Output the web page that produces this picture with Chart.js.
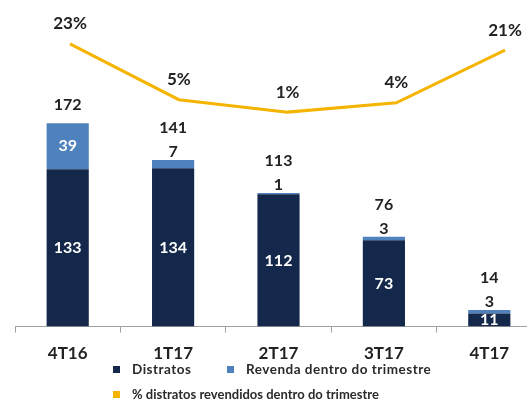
<!DOCTYPE html>
<html>
<head>
<meta charset="utf-8">
<script src="https://cdn.jsdelivr.net/npm/chart.js@4/dist/chart.umd.min.js"></script>
<style>
  html, body { margin: 0; padding: 0; background: #fff; }
  #wrap { position: relative; width: 527px; height: 401px; overflow: hidden; }
  #wrap canvas { position: absolute; left: 0; top: 0; }
  .lg { position: absolute; font-family: Lato, sans-serif; font-weight: bold; font-size: 13.5px; letter-spacing: 0.5px; color: #2a2a2a; white-space: nowrap; }
  .lg i { display: inline-block; width: 7px; height: 7px; margin-right: 12px; vertical-align: 1px; }
  .lg.tight { font-size: 13px; letter-spacing: 0; }
</style>
</head>
<body>
<div id="wrap">
  <canvas id="uaChart" width="560" height="401" style="width:560px;height:401px"></canvas>
  <div class="lg" style="left:113px;top:361px"><i style="background:#13284a"></i>Distratos</div>
  <div class="lg" style="left:227px;top:361px"><i style="background:#4f81bd"></i>Revenda dentro do trimestre</div>
  <div class="lg tight" style="left:113px;top:386px"><i style="background:#f5b400"></i>% distratos revendidos dentro do trimestre</div>
</div>
<script>
;(function () {
    'use strict';

// Data
const labels    = ['4T16', '1T17', '2T17', '3T17', '4T17'];
const distratos = [133, 134, 112, 73, 11];
const revenda   = [39, 7, 1, 3, 3];
const totals    = [172, 141, 113, 76, 14];
const pctRev    = [23, 5, 1, 4, 21];

const navy  = '#13284a',
      blue  = '#4f81bd',
      gold  = '#f5b400',
      ink   = '#222222';

// line points on their own (hidden) linear x scale, indexed by category
let pctPoints = [];
for (let i = 0; i < pctRev.length; i++) {
    pctPoints.push({ x: i, y: pctRev[i] });
}

// labels on bars and line points
const valueLabels = {
    id: 'valueLabels',
    afterDatasetsDraw: function (chart) {
        const ctx = chart.ctx;
        const mDis = chart.getDatasetMeta(0),
              mRev = chart.getDatasetMeta(1),
              mPct = chart.getDatasetMeta(2);
        ctx.save();
        ctx.textAlign = 'center';
        ctx.textBaseline = 'middle';

        for (let i = 0; i < labels.length; i++) {
            let bd = mDis.data[i], br = mRev.data[i];
            ctx.font = 'bold 16px Lato';
            // distratos inside
            ctx.fillStyle = '#ffffff';
            ctx.fillText(distratos[i], bd.x, (bd.y + bd.base) / 2);

            if (revenda[i] >= 10) {
                ctx.fillText(revenda[i], br.x, (br.y + br.base) / 2);
                ctx.fillStyle = ink;
                ctx.fillText(totals[i], br.x, br.y - 18);
            } else {
                ctx.fillStyle = ink;
                ctx.fillText(revenda[i], br.x, br.y - 8);
                ctx.fillText(totals[i], br.x, br.y - 32);
            }

            let p = mPct.data[i];
            ctx.font = 'bold 17px Lato';
            ctx.fillText(pctRev[i] + '%', p.x, p.y - 20);
        }
        ctx.restore();
    }
};

const config = {
    type: 'bar',
    data: {
        labels: labels,
        datasets: [{
            label: 'Distratos',
            data: distratos,
            backgroundColor: navy,
            stack: 's',
            grouped: false,
            xAxisID: 'x',
            yAxisID: 'y',
            order: 2
        }, {
            label: 'Revenda dentro do trimestre',
            data: revenda,
            backgroundColor: blue,
            stack: 's',
            grouped: false,
            xAxisID: 'x',
            yAxisID: 'y',
            order: 2
        }, {
            type: 'line',
            label: '% distratos revendidos dentro do trimestre',
            data: pctPoints,
            borderColor: gold,
            borderWidth: 3,
            pointRadius: 0,
            tension: 0,
            xAxisID: 'x2',
            yAxisID: 'y1',
            order: 1
        }]
    },
    options: {
        responsive: false,
        animation: false,
        barPercentage: 0.4,
        categoryPercentage: 1,
        layout: { padding: { left: 15, right: 18, top: 10, bottom: 26 } },
        plugins: {
            legend: { display: false },
            tooltip: { enabled: false }
        },
        scales: {
            x: {
                type: 'category',
                stacked: true,
                offset: true,
                grid: {
                    offset: true,
                    drawOnChartArea: false,
                    drawTicks: true,
                    tickLength: 6,
                    color: '#a0a0a0'
                },
                border: { color: '#a0a0a0', width: 1 },
                ticks: {
                    color: ink,
                    padding: 11,
                    font: { family: 'Lato', size: 17, weight: 'bold' }
                }
            },
            x2: {
                type: 'linear',
                display: false,
                offset: false,
                min: -0.506,
                max: 4.34
            },
            y: {
                stacked: true,
                display: false,
                min: 0,
                max: 267.8
            },
            y1: {
                display: false,
                min: -68.1,
                max: 33.9
            }
        }
    },
    plugins: [valueLabels]
};

const uaChart = new Chart(document.getElementById('uaChart'), config);

}());
</script>
</body>
</html>
